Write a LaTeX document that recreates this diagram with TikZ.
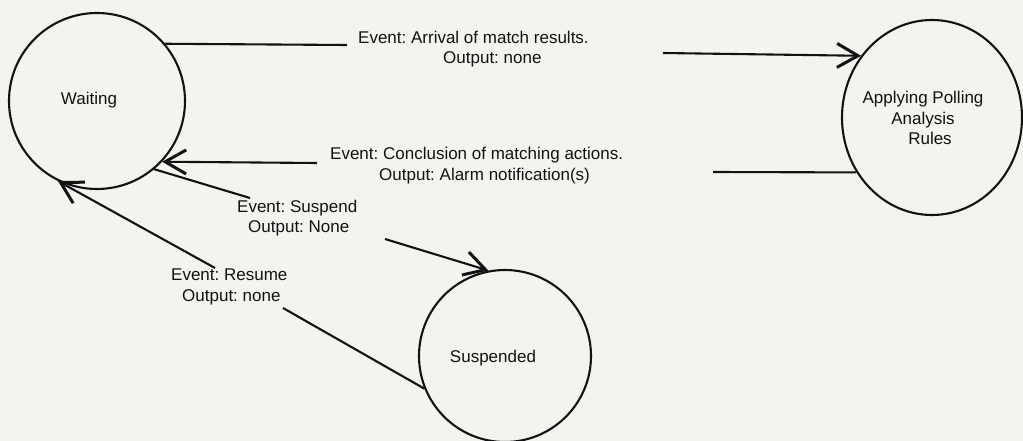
\documentclass[tikz,border=0pt]{standalone}
\usepackage{fontspec}
\setmainfont{Liberation Sans}
\usetikzlibrary{arrows.meta,shapes.geometric}
\definecolor{paper}{RGB}{243,243,239}
\definecolor{ink}{RGB}{18,18,18}
\frenchspacing
\begin{document}
\begin{tikzpicture}[x=1pt,y=-1pt,
  state/.style={draw=ink,line width=2.1pt,circle,inner sep=0pt},
  statetext/.style={font=\fontsize{17}{20.5}\selectfont,text=ink,inner sep=0pt,align=center},
  evtext/.style={font=\fontsize{17}{20.5}\selectfont,text=ink,inner sep=0pt,align=left,anchor=west},
  link/.style={draw=ink,line width=2.1pt},
  arc/.style={link,-{Straight Barb[length=21pt,width=24pt,line width=3pt]}}]
  % page
  \fill[paper] (0,0) rectangle (1023,441);
  \useasboundingbox (0,0) rectangle (1023,441);

  % states
  \node[state,minimum size=176pt] (w) at (97,101) {};
  \node[draw=ink,line width=2.1pt,ellipse,inner sep=0pt,
        minimum width=180pt,minimum height=195pt] (a) at (932,117.5) {};
  \node[state,minimum size=172pt] (s) at (505,356) {};

  \node[statetext] (wt) at (89,100) {Waiting};
  \node[statetext] (at) at (923,118) {Applying Polling\\Analysis\\\hspace*{14pt}Rules};
  \node[statetext] (st) at (493,358) {Suspended};

  % transition labels
  \node[evtext] (l1) at (358,49) {Event: Arrival of match results.\\\hspace*{85pt}Output: none};
  \node[evtext] (l2) at (330,165.5) {Event: Conclusion of matching actions.\\\hspace*{49pt}Output: Alarm notification(s)};
  \node[evtext] (l3) at (237,218) {Event: Suspend\\\hspace*{11pt}Output: None};
  \node[evtext] (l4) at (171,287) {Event: Resume\\\hspace*{11pt}Output: none};

  % break points of the transitions around their labels
  \coordinate (c1a) at (347,45);
  \coordinate (c1b) at (663,53);
  \coordinate (c2a) at (713,172);
  \coordinate (c2b) at (317,163);
  \coordinate (c3a) at (250,198);
  \coordinate (c3b) at (385,239);
  \coordinate (c4a) at (283,308);
  \coordinate (c4b) at (215,268);

  % Waiting -> Applying
  \draw[link] (w.40) -- (c1a);
  \draw[arc] (c1b) -- (a.139);
  % Applying -> Waiting
  \draw[link] (a.216) -- (c2a);
  \draw[arc] (c2b) -- (w.-43);
  % Waiting -> Suspended
  \draw[link] (w.-50) -- (c3a);
  \draw[arc] (c3b) -- (s.101);
  % Suspended -> Waiting
  \draw[link] (s.202) -- (c4a);
  \draw[arc] (c4b) -- (w.244);
\end{tikzpicture}
\end{document}
